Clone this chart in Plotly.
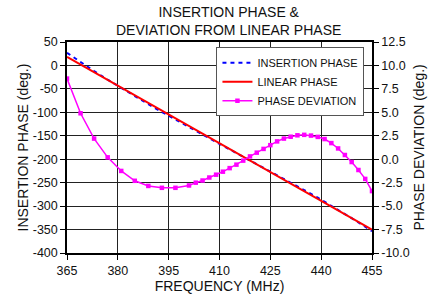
import plotly.graph_objects as go

freq = [365, 369, 373, 377, 381, 385, 389, 393, 397, 401, 403, 405, 407, 409, 411,
        413, 415, 417, 419, 421, 423, 425, 427, 429, 431, 433, 435, 437, 439, 441,
        443, 445, 447, 449, 451, 453, 455]
insertion_phase = [27.1, 7.0, -12.1, -30.4, -48.3, -65.7, -82.6, -99.2, -115.6, -131.7,
                   -139.6, -147.6, -155.4, -163.3, -171.2, -179.0, -186.8, -194.6, -202.3,
                   -210.1, -217.9, -225.7, -233.5, -241.3, -249.3, -257.4, -265.5, -273.8,
                   -282.1, -290.5, -299.2, -307.9, -316.8, -325.7, -334.8, -343.9, -353.4]
phase_deviation = [8.6, 4.9, 2.2, 0.2, -1.25, -2.3, -2.85, -3.05, -3.05, -2.8, -2.5, -2.27,
                   -1.95, -1.65, -1.33, -0.95, -0.58, -0.15, 0.3, 0.7, 1.1, 1.5, 1.9, 2.2,
                   2.4, 2.55, 2.6, 2.52, 2.38, 2.15, 1.72, 1.15, 0.45, -0.3, -1.15, -2.1, -3.4]
linear_freq = [365, 455]
linear_phase = [18.5, -350]

x_ticks = [365, 380, 395, 410, 425, 440, 455]
y1_ticks = [50, 0, -50, -100, -150, -200, -250, -300, -350, -400]
y2_ticks = [12.5, 10.0, 7.5, 5.0, 2.5, 0.0, -2.5, -5.0, -7.5, -10.0]

FONT = "Liberation Sans, Arial, sans-serif"

fig = go.Figure()
fig.add_trace(go.Scatter(x=freq, y=insertion_phase, mode="lines", name="INSERTION PHASE",
                         line=dict(color="#0000FF", width=2, dash="4px,4px"), legendrank=1))
fig.add_trace(go.Scatter(x=linear_freq, y=linear_phase, mode="lines", name="LINEAR PHASE",
                         line=dict(color="#FF0000", width=2), legendrank=2))
fig.add_trace(go.Scatter(x=freq, y=phase_deviation, mode="lines+markers", name="PHASE DEVIATION",
                         yaxis="y2", line=dict(color="#FF00FF", width=1.5),
                         marker=dict(symbol="square", size=4.5, color="#FF00FF"), legendrank=3))

fig.add_annotation(text="INSERTION PHASE &<br>DEVIATION FROM LINEAR PHASE",
                   xref="paper", yref="paper", x=0.53, y=1, xanchor="center", yanchor="bottom",
                   yshift=2, showarrow=False, font=dict(size=14, family=FONT, color="#111"))
fig.add_annotation(text="INSERTION PHASE (deg.)", textangle=-90,
                   xref="paper", yref="paper", x=0, y=0.5, xanchor="center", yanchor="middle",
                   xshift=-45, showarrow=False, font=dict(size=14, family=FONT, color="#111"))
fig.add_annotation(text="PHASE DEVIATION (deg.)", textangle=-90,
                   xref="paper", yref="paper", x=1, y=0.5, xanchor="center", yanchor="middle",
                   xshift=46, showarrow=False, font=dict(size=14, family=FONT, color="#111"))

fig.update_layout(
    width=440, height=294,
    margin=dict(l=67, r=68, t=42, b=41),
    paper_bgcolor="white", plot_bgcolor="white",
    font=dict(family=FONT, size=12.5, color="#111"),
    showlegend=True,
    legend=dict(x=0.49, y=0.975, xanchor="left", yanchor="top",
                bgcolor="white", bordercolor="#555", borderwidth=1,
                font=dict(size=11, family=FONT, color="#111"),
                tracegroupgap=0, itemwidth=30),
    xaxis=dict(range=[365, 455], tickvals=x_ticks, ticktext=[str(v) for v in x_ticks],
               showgrid=True, gridcolor="#222", gridwidth=1,
               showline=True, linecolor="black", linewidth=1.5, mirror=True,
               ticks="outside", ticklen=5, tickcolor="black",
               zeroline=False, automargin=False,
               title=dict(text="FREQUENCY (MHz)", font=dict(size=14, family=FONT))),
    yaxis=dict(range=[-400, 50], tickvals=y1_ticks, ticktext=[str(v) for v in y1_ticks],
               showgrid=True, gridcolor="#222", gridwidth=1,
               showline=True, linecolor="black", linewidth=1.5,
               ticks="outside", ticklen=5, tickcolor="black", zeroline=False, automargin=False),
    yaxis2=dict(range=[-10, 12.5], tickvals=y2_ticks, ticktext=["%.1f" % v for v in y2_ticks],
                overlaying="y", side="right", showgrid=False,
                showline=True, linecolor="black", linewidth=1.5,
                ticks="outside", ticklen=5, tickcolor="black", zeroline=False, automargin=False),
)

fig.write_html("out.html", config={"displayModeBar": False},
               post_script="document.body.style.margin='0';")
